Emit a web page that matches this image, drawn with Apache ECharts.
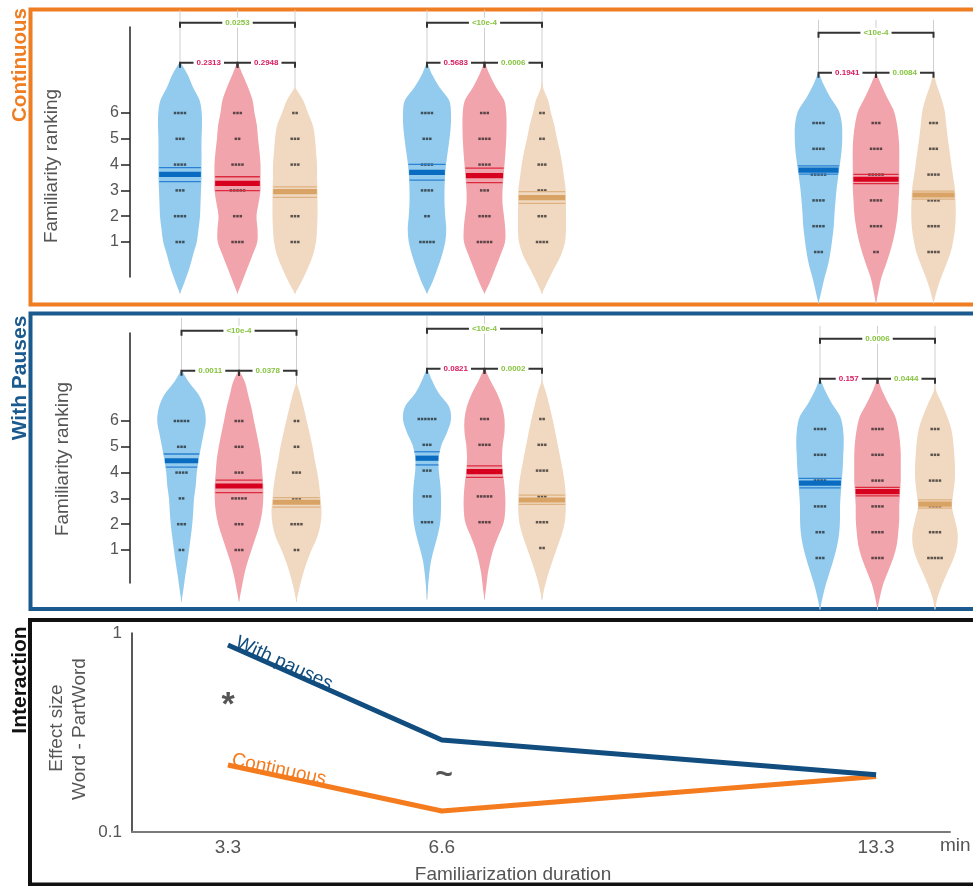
<!DOCTYPE html>
<html><head><meta charset="utf-8">
<script src="https://cdn.jsdelivr.net/npm/echarts@6/dist/echarts.min.js"></script>
<style>html,body{margin:0;padding:0;background:#fff}#c{width:973px;height:886px}</style>
</head><body><div id="c"></div>
<script>
// ---------------- DATA ----------------
const conditions = ['Word', 'PartWord', 'NonWord'];
const durationsMin = [3.3, 6.6, 13.3];
const rankTicks = [1, 2, 3, 4, 5, 6];
// rank levels at which violin densities were read
const levels = [-1,-0.5,0,0.5,1,1.5,2,2.5,3,3.5,4,4.5,5,5.5,6,6.5,7,7.5,8];

// Continuous stream: violin densities
const densCont33Word  = [0,.20,.38,.52,.67,.74,.80,.82,.84,.86,.86,.86,.86,.88,.87,.78,.52,.30,0];
const densCont33Part  = [0,.20,.40,.60,.79,.80,.76,.84,.92,.92,.92,.88,.82,.78,.68,.60,.42,.20,0];
const densCont33Non   = [0,.28,.52,.72,.84,.88,.90,.90,.90,.88,.88,.84,.80,.72,.52,.32,0,0,0];
const densCont66Word  = [0,.24,.43,.60,.73,.77,.73,.70,.70,.72,.76,.83,.90,.95,.96,.88,.50,.20,0];
const densCont66Part  = [0,.24,.44,.64,.82,.83,.78,.72,.72,.76,.80,.84,.87,.88,.87,.78,.46,.20,0];
const densCont66Non   = [0,.24,.50,.76,.92,.96,.96,.96,.95,.88,.81,.72,.60,.50,.36,.24,.04,0,0];
const densCont133Word = [0,.12,.24,.38,.48,.55,.61,.64,.68,.73,.80,.87,.93,.95,.93,.80,.47,.20,0];
const densCont133Part = [0,.10,.21,.39,.56,.70,.80,.87,.90,.93,.93,.93,.93,.90,.83,.70,.44,.20,0];
const densCont133Non  = [0,.13,.30,.50,.69,.80,.87,.89,.88,.85,.77,.70,.63,.56,.50,.44,.30,.12,0];
// With pauses: violin densities
const densPause33Word  = [0,.08,.15,.23,.30,.37,.43,.47,.50,.57,.61,.69,.78,.88,.97,.91,.70,.30,0];
const densPause33Part  = [0,.10,.20,.33,.50,.67,.83,.93,.97,.97,.93,.89,.81,.71,.60,.50,.37,.24,0];
const densPause33Non   = [0,.11,.24,.40,.60,.83,.96,1.0,.96,.91,.83,.73,.64,.53,.41,.29,.16,0,0];
const densPause66Word  = [0,.04,.09,.16,.29,.43,.53,.56,.56,.53,.47,.47,.58,.81,.96,.87,.47,.20,0];
const densPause66Part  = [0,.07,.13,.23,.37,.57,.77,.83,.83,.79,.73,.70,.73,.80,.80,.70,.50,.23,0];
const densPause66Non   = [0,.11,.25,.42,.60,.78,.91,.95,.95,.91,.83,.73,.63,.53,.42,.30,.17,0,0];
const densPause133Word = [0,.11,.24,.40,.56,.69,.77,.80,.80,.83,.87,.91,.93,.95,.92,.80,.47,.20,0];
const densPause133Part = [0,.10,.23,.43,.63,.77,.83,.87,.87,.90,.93,.93,.93,.90,.83,.70,.43,.18,0];
const densPause133Non  = [0,.11,.30,.52,.75,.89,.90,.79,.68,.73,.79,.80,.77,.73,.65,.48,.27,.04,0];

// means and confidence bounds (Word, PartWord, NonWord)
const meanCont33 = [3.62, 3.27, 2.95], loCont33 = [3.34, 2.99, 2.73], hiCont33 = [3.88, 3.53, 3.14];
const meanCont66 = [3.70, 3.57, 2.72], loCont66 = [3.40, 3.30, 2.50], hiCont66 = [4.01, 3.86, 2.95];
const meanCont133 = [4.17, 3.82, 3.21], loCont133 = [4.02, 3.65, 3.05], hiCont133 = [4.34, 4.01, 3.36];
const meanPause33 = [4.46, 3.48, 2.85], loPause33 = [4.21, 3.22, 2.66], hiPause33 = [4.72, 3.71, 3.03];
const meanPause66 = [4.48, 3.96, 2.86], loPause66 = [4.22, 3.74, 2.69], hiPause66 = [4.73, 4.18, 3.05];
const meanPause133 = [3.90, 3.57, 3.09], loPause133 = [3.72, 3.41, 2.93], hiPause133 = [4.09, 3.74, 3.25];

// number of individual responses at ranks 1..6
const countsCont33Word = [3,4,3,4,3,4], countsCont33Part = [4,3,5,4,2,3], countsCont33Non = [3,3,3,3,3,2];
const countsCont66Word = [5,2,4,4,3,4], countsCont66Part = [5,4,3,4,4,3], countsCont66Non = [4,3,3,3,2,2];
const countsCont133Word = [3,4,4,5,4,4], countsCont133Part = [2,4,4,5,4,3], countsCont133Non = [4,4,4,4,3,3];
const countsPause33Word = [2,3,2,4,3,5], countsPause33Part = [3,3,5,3,3,3], countsPause33Non = [2,4,3,3,2,2];
const countsPause66Word = [0,4,3,3,3,6], countsPause66Part = [0,4,5,4,4,3], countsPause66Non = [2,4,3,4,3,2];
const countsPause133Word = [3,3,4,4,4,4], countsPause133Part = [4,4,4,4,4,4], countsPause133Non = [5,4,4,4,3,3];

// p-values: [Word vs NonWord, Word vs PartWord, PartWord vs NonWord]
const pCont33 = ['0.0253', '0.2313', '0.2948'];
const pCont66 = ['<10e-4', '0.5683', '0.0006'];
const pCont133 = ['<10e-4', '0.1941', '0.0084'];
const pPause33 = ['<10e-4', '0.0011', '0.0378'];
const pPause66 = ['<10e-4', '0.0821', '0.0002'];
const pPause133 = ['0.0006', '0.157', '0.0444'];
const comparisons = [[0, 2], [0, 1], [1, 2]];

// Interaction: effect size Word - PartWord
const effectPauses = [0.87, 0.29, 0.194];
const effectContinuous = [0.217, 0.1275, 0.19];

// ---------------- TABLES ----------------
const dens = [
  [[densCont33Word, densCont33Part, densCont33Non], [densCont66Word, densCont66Part, densCont66Non], [densCont133Word, densCont133Part, densCont133Non]],
  [[densPause33Word, densPause33Part, densPause33Non], [densPause66Word, densPause66Part, densPause66Non], [densPause133Word, densPause133Part, densPause133Non]]
];
const means = [[meanCont33, meanCont66, meanCont133], [meanPause33, meanPause66, meanPause133]];
const los = [[loCont33, loCont66, loCont133], [loPause33, loPause66, loPause133]];
const his = [[hiCont33, hiCont66, hiCont133], [hiPause33, hiPause66, hiPause133]];
const counts = [
  [[countsCont33Word, countsCont33Part, countsCont33Non], [countsCont66Word, countsCont66Part, countsCont66Non], [countsCont133Word, countsCont133Part, countsCont133Non]],
  [[countsPause33Word, countsPause33Part, countsPause33Non], [countsPause66Word, countsPause66Part, countsPause66Non], [countsPause133Word, countsPause133Part, countsPause133Non]]
];
const pvals = [[pCont33, pCont66, pCont133], [pPause33, pPause66, pPause133]];

// ---------------- LAYOUT / STYLE ----------------
const FONT = '"Liberation Sans", Arial, sans-serif';
const PX = 25.8; // px per rank unit
const panelLayout = [
  { axis: { top: 27, min: -0.357, max: 9.333 }, groups: [{ cx: 237.5, r1: 242 }, { cx: 484.5, r1: 242 }, { cx: 876, r1: 252 }] },
  { axis: { top: 333, min: -0.28, max: 9.41 }, groups: [{ cx: 239, r1: 550 }, { cx: 484.5, r1: 548 }, { cx: 877.5, r1: 558 }] }
];
const fillColors = ['#92cbee', '#f2a4ac', '#f1d8c0'];
const meanColors = ['#0a6cc0', '#d7001f', '#d8a365'];
const ciColors = ['#2a80d2', '#dc2a3e', '#ddb282'];
const bracketLevels = [9.5, 7.95, 7.95];

function segs(pts) {
  let d = '';
  for (let i = 0; i < pts.length - 1; i++) {
    const p0 = pts[i - 1] || pts[i], p1 = pts[i], p2 = pts[i + 1], p3 = pts[i + 2] || pts[i + 1];
    const c1x = p1[0] + (p2[0] - p0[0]) / 6, c1y = p1[1] + (p2[1] - p0[1]) / 6;
    const c2x = p2[0] - (p3[0] - p1[0]) / 6, c2y = p2[1] - (p3[1] - p1[1]) / 6;
    d += ' C' + c1x.toFixed(2) + ' ' + c1y.toFixed(2) + ' ' + c2x.toFixed(2) + ' ' + c2y.toFixed(2) + ' ' + p2[0].toFixed(2) + ' ' + p2[1].toFixed(2);
  }
  return d;
}
function densAt(d, r) {
  for (let j = 0; j < levels.length - 1; j++) {
    if (r >= levels[j] && r <= levels[j + 1]) {
      const t = (r - levels[j]) / (levels[j + 1] - levels[j]);
      return d[j] + (d[j + 1] - d[j]) * t;
    }
  }
  return 0;
}

function violinRender(pi, gi) {
  return function (params, api) {
    const i = params.dataIndex;
    const d = dens[pi][gi][i];
    const band = api.size([1, 0])[0];
    const k = band * 0.435;
    const cx = api.coord([i, 0])[0];
    const yOf = r => api.coord([i, r])[1];
    let first = d.findIndex(v => v > 0);
    let last = d.length - 1 - d.slice().reverse().findIndex(v => v > 0);
    const lo = Math.max(0, first - 1), hi = Math.min(d.length - 1, last + 1);
    const right = [], left = [];
    for (let j = lo; j <= hi; j++) right.push([cx + d[j] * k, yOf(levels[j])]);
    for (let j = hi; j >= lo; j--) left.push([cx - d[j] * k, yOf(levels[j])]);
    const path = 'M' + right[0][0] + ' ' + right[0][1] + segs(right) + ' L' + left[0][0] + ' ' + left[0][1] + segs(left) + ' Z';
    const children = [];
    children.push({ type: 'line', shape: { x1: cx, y1: yOf(10), x2: cx, y2: yOf(-1) }, style: { stroke: '#cfcfcf', lineWidth: 1 } });
    children.push({ type: 'path', shape: { pathData: path }, style: { fill: fillColors[i], stroke: null } });
    const cnt = counts[pi][gi][i];
    cnt.forEach((n, ri) => {
      const y = yOf(rankTicks[ri]);
      for (let m = 0; m < n; m++) {
        const off = (m - (n - 1) / 2) * 3.3;
        children.push({ type: 'rect', shape: { x: cx + off - 1.25, y: y - 1.25, width: 2.5, height: 2.5 }, style: { fill: '#1b1b1b', opacity: 0.7 } });
      }
    });
    const mean = means[pi][gi][i], lo2 = los[pi][gi][i], hi2 = his[pi][gi][i];
    [lo2, hi2].forEach(v => {
      const w = densAt(d, v) * k * 0.97;
      const y = yOf(v);
      children.push({ type: 'line', shape: { x1: cx - w, y1: y, x2: cx + w, y2: y }, style: { stroke: ciColors[i], lineWidth: 1.3 } });
    });
    const wm = densAt(d, mean) * k * 0.97;
    const ym = yOf(mean);
    children.push({ type: 'rect', shape: { x: cx - wm, y: ym - 2.6, width: 2 * wm, height: 5.2 }, style: { fill: meanColors[i] } });
    return { type: 'group', children };
  };
}

function bracketRender(pi, gi) {
  return function (params, api) {
    const j = params.dataIndex;
    const [a, b] = comparisons[j];
    const lvl = bracketLevels[j];
    const p1 = api.coord([a, lvl]), p2 = api.coord([b, lvl]);
    const y = p1[1];
    const txt = pvals[pi][gi][j];
    const sig = txt.startsWith('<') || parseFloat(txt) < 0.05;
    return {
      type: 'group', children: [
        { type: 'polyline', shape: { points: [[p1[0], y + 5], [p1[0], y], [p2[0], y], [p2[0], y + 5]] }, style: { stroke: '#333', lineWidth: 2, fill: null } },
        { type: 'text', style: { text: txt, x: (p1[0] + p2[0]) / 2, y: y, align: 'center', verticalAlign: 'middle', fill: sig ? '#86c440' : '#d81b60', font: 'bold 8px ' + FONT, backgroundColor: '#fff', padding: [1, 3] } }
      ]
    };
  };
}

// ---------------- OPTION ----------------
const grid = [], xAxis = [], yAxis = [], series = [];
panelLayout.forEach((pl, pi) => {
  const ai = grid.length;
  grid.push({ left: 130, top: pl.axis.top, width: 10, height: 250 });
  xAxis.push({ gridIndex: ai, type: 'value', show: false });
  yAxis.push({
    gridIndex: ai, type: 'value', min: pl.axis.min, max: pl.axis.max,
    axisLine: { show: true, lineStyle: { color: '#222', width: 1.5 } },
    axisTick: { show: true, length: 9, customValues: rankTicks, lineStyle: { color: '#222', width: 1.5 } },
    axisLabel: { customValues: rankTicks, margin: 11, fontSize: 16, color: '#555', fontFamily: FONT },
    splitLine: { show: false }
  });
  pl.groups.forEach((g, gi) => {
    const idx = grid.length;
    grid.push({ left: g.cx - 86.25, width: 172.5, top: g.r1 - 9 * PX, height: 11 * PX });
    xAxis.push({ gridIndex: idx, type: 'category', data: conditions, show: false });
    yAxis.push({ gridIndex: idx, type: 'value', min: -1, max: 10, show: false });
    series.push({
      type: 'custom', xAxisIndex: idx, yAxisIndex: idx, clip: false, silent: true,
      data: conditions.map((c, i) => [i, 0]), encode: { x: 0, y: 1 },
      renderItem: violinRender(pi, gi), z: 2
    });
    series.push({
      type: 'custom', xAxisIndex: idx, yAxisIndex: idx, clip: false, silent: true,
      data: comparisons.map((c, i) => [c[0], 0]), encode: { x: 0, y: 1 },
      renderItem: bracketRender(pi, gi), z: 3
    });
  });
});
const bi = grid.length;
grid.push({ left: 132, top: 633, width: 818, height: 199 });
xAxis.push({
  gridIndex: bi, type: 'value', min: 1.82, max: 14.44,
  axisLine: { show: true, lineStyle: { color: '#7a7a7a', width: 2 } },
  axisTick: { show: false }, splitLine: { show: false },
  axisLabel: { customValues: durationsMin, fontSize: 19, color: '#555', margin: 6, fontFamily: FONT, formatter: v => String(v) }
});
yAxis.push({
  gridIndex: bi, type: 'log', logBase: 10, min: 0.1, max: 1,
  axisLine: { show: true, lineStyle: { color: '#222', width: 1.5 } },
  axisTick: { show: false }, splitLine: { show: false },
  axisLabel: { fontSize: 17, color: '#555', margin: 10, fontFamily: FONT }
});
series.push({
  type: 'line', xAxisIndex: bi, yAxisIndex: bi, symbol: 'none', silent: true,
  data: durationsMin.map((d, i) => [d, effectContinuous[i]]),
  lineStyle: { color: '#f47b1e', width: 5, cap: 'butt' }, z: 3
});
series.push({
  type: 'line', xAxisIndex: bi, yAxisIndex: bi, symbol: 'none', silent: true,
  data: durationsMin.map((d, i) => [d, effectPauses[i]]),
  lineStyle: { color: '#114d7e', width: 5, cap: 'butt' }, z: 4
});

const graphic = [
  { type: 'rect', shape: { x: 30.5, y: 9.5, width: 1000, height: 295 }, style: { fill: null, stroke: '#ef7d22', lineWidth: 4 }, z: 1 },
  { type: 'rect', shape: { x: 30.5, y: 313.5, width: 1000, height: 295.5 }, style: { fill: null, stroke: '#1b5a8e', lineWidth: 4 }, z: 1 },
  { type: 'rect', shape: { x: 30, y: 620, width: 1000, height: 264.5 }, style: { fill: null, stroke: '#111', lineWidth: 4 }, z: 1 },
  { type: 'text', x: 20, y: 65, rotation: Math.PI / 2, style: { text: 'Continuous', font: 'bold 20.5px ' + FONT, fill: '#ef7d22', align: 'center', verticalAlign: 'middle' }, z: 10 },
  { type: 'text', x: 20, y: 378, rotation: Math.PI / 2, style: { text: 'With Pauses', font: 'bold 21px ' + FONT, fill: '#1b5a8e', align: 'center', verticalAlign: 'middle' }, z: 10 },
  { type: 'text', x: 20, y: 680, rotation: Math.PI / 2, style: { text: 'Interaction', font: 'bold 21px ' + FONT, fill: '#111', align: 'center', verticalAlign: 'middle' }, z: 10 },
  { type: 'text', x: 52, y: 166, rotation: Math.PI / 2, style: { text: 'Familiarity ranking', font: '19px ' + FONT, fill: '#555', align: 'center', verticalAlign: 'middle' }, z: 10 },
  { type: 'text', x: 63, y: 459, rotation: Math.PI / 2, style: { text: 'Familiarity ranking', font: '19px ' + FONT, fill: '#555', align: 'center', verticalAlign: 'middle' }, z: 10 },
  { type: 'text', x: 57, y: 728, rotation: Math.PI / 2, style: { text: 'Effect size', font: '19px ' + FONT, fill: '#555', align: 'center', verticalAlign: 'middle' }, z: 10 },
  { type: 'text', x: 80, y: 729, rotation: Math.PI / 2, style: { text: 'Word - PartWord', font: '19px ' + FONT, fill: '#555', align: 'center', verticalAlign: 'middle' }, z: 10 },
  { type: 'text', x: 513, y: 875, style: { text: 'Familiarization duration', font: '19px ' + FONT, fill: '#555', align: 'center', verticalAlign: 'middle' }, z: 10 },
  { type: 'text', x: 940, y: 846, style: { text: 'min', font: '19px ' + FONT, fill: '#555', align: 'left', verticalAlign: 'middle' }, z: 10 },
  { type: 'text', x: 280, y: 672, rotation: -0.43, style: { text: 'With pauses', font: '19px ' + FONT, fill: '#114d7e', align: 'center', verticalAlign: 'bottom' }, z: 10 },
  { type: 'text', x: 277, y: 779, rotation: -0.21, style: { text: 'Continuous', font: '19px ' + FONT, fill: '#f47b1e', align: 'center', verticalAlign: 'bottom' }, z: 10 },
  { type: 'text', x: 228, y: 706, style: { text: '*', font: 'bold 34px ' + FONT, fill: '#555', align: 'center', verticalAlign: 'middle' }, z: 10 },
  { type: 'text', x: 444, y: 776, style: { text: '~', font: 'bold 30px ' + FONT, fill: '#555', align: 'center', verticalAlign: 'middle' }, z: 10 }
];

const chart = echarts.init(document.getElementById('c'));
chart.setOption({ animation: false, grid, xAxis, yAxis, series, graphic });
</script>
</body></html>
